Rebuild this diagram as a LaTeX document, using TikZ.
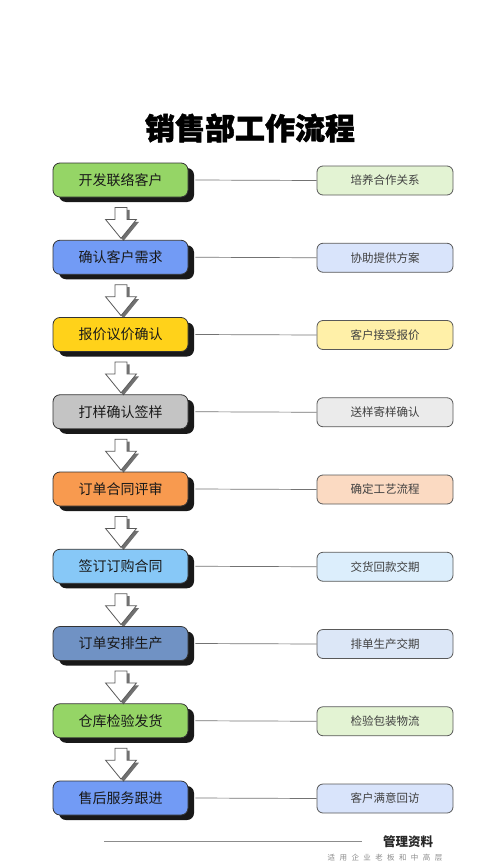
\documentclass[tikz,border=0pt]{standalone}
\usepackage{fontspec}
\setmainfont{Noto Sans CJK SC}
\newfontfamily\titlefont{Noto Sans CJK SC}[BoldFeatures={FakeBold=1.6}]
\usetikzlibrary{shadows}
\definecolor{cA}{HTML}{95D566}\definecolor{rA}{HTML}{E3F3D3}
\definecolor{cB}{HTML}{729BF5}\definecolor{rB}{HTML}{D9E4FB}
\definecolor{cC}{HTML}{FFD21A}\definecolor{rC}{HTML}{FFF0A8}
\definecolor{cD}{HTML}{C4C4C4}\definecolor{rD}{HTML}{EBEBEB}
\definecolor{cE}{HTML}{F89A4F}\definecolor{rE}{HTML}{FBDAC2}
\definecolor{cF}{HTML}{87C8F7}\definecolor{rF}{HTML}{DCEEFC}
\definecolor{cG}{HTML}{7092C4}\definecolor{rG}{HTML}{DCE7F7}
\begin{document}
\begin{tikzpicture}[x=1pt,y=-1pt,
  lbox/.style={draw=black!80, line width=0.8pt, rounded corners=7pt,
    minimum width=135pt, minimum height=34pt, inner sep=0pt,
    font=\fontsize{14}{16}\selectfont, text=black!90,
    drop shadow={shadow xshift=6pt, shadow yshift=-5pt, fill=black!90, opacity=1}},
  rbox/.style={draw=black!65, line width=0.8pt, rounded corners=6pt,
    minimum width=136pt, minimum height=29pt, inner sep=0pt,
    font=\fontsize{11.5}{13}\selectfont, text=black!75},
  link/.style={draw=black!55, line width=0.7pt},
  blockarrow/.style={draw=black!65, line width=0.8pt, fill=white},
  arrowshadow/.style={fill=black!75, opacity=0.75}
]
\useasboundingbox (0,0) rectangle (500,867);
\node[font=\fontsize{30}{32}\selectfont\titlefont\bfseries] (title) at (250,128) {销售部工作流程};
\foreach \i/\lt/\lc/\rt/\rc in {
  0/开发联络客户/cA/培养合作关系/rA,
  1/确认客户需求/cB/协助提供方案/rB,
  2/报价议价确认/cC/客户接受报价/rC,
  3/打样确认签样/cD/送样寄样确认/rD,
  4/订单合同评审/cE/确定工艺流程/rE,
  5/签订订购合同/cF/交货回款交期/rF,
  6/订单安排生产/cG/排单生产交期/rG,
  7/仓库检验发货/cA/检验包装物流/rA,
  8/售后服务跟进/cB/客户满意回访/rB}{
  \node[lbox, fill=\lc] (l\i) at (120.5,{180+77.25*\i}) {\lt};
  \node[rbox, fill=\rc] (r\i) at (385,{180.5+77.25*\i}) {\rt};
  \draw[link] ([xshift=7pt]l\i.east) -- (r\i.west);
}
\foreach \i in {0,...,7}{
  \coordinate (m\i) at ([xshift=0.5pt,yshift=-25.5pt]l\i.south);
  \fill[arrowshadow] ([shift={(2.5,2.5)}]m\i) ++(-6,-15.5) -- ++(12,0) -- ++(0,12) -- ++(9.5,0)
     -- ++(-15.5,19) -- ++(-15.5,-19) -- ++(9.5,0) -- cycle;
  \draw[blockarrow] (m\i) ++(-6,-15.5) -- ++(12,0) -- ++(0,12) -- ++(9.5,0)
     -- ++(-15.5,19) -- ++(-15.5,-19) -- ++(9.5,0) -- cycle;
}
\coordinate (fl) at (104,841);
\coordinate (fr) at (362,841);
\draw[draw=black!45, line width=0.8pt] (fl) -- (fr);
\node[font=\fontsize{12.5}{14}\selectfont\bfseries, text=black!85] (ft) at (408,842) {管理资料};
\node[font=\fontsize{7.5}{9}\selectfont, text=black!45] (fs) at (385,858)
  {适\hspace{4.4pt}用\hspace{4.4pt}企\hspace{4.4pt}业\hspace{4.4pt}老\hspace{4.4pt}板\hspace{4.4pt}和\hspace{4.4pt}中\hspace{4.4pt}高\hspace{4.4pt}层};
\end{tikzpicture}
\end{document}
